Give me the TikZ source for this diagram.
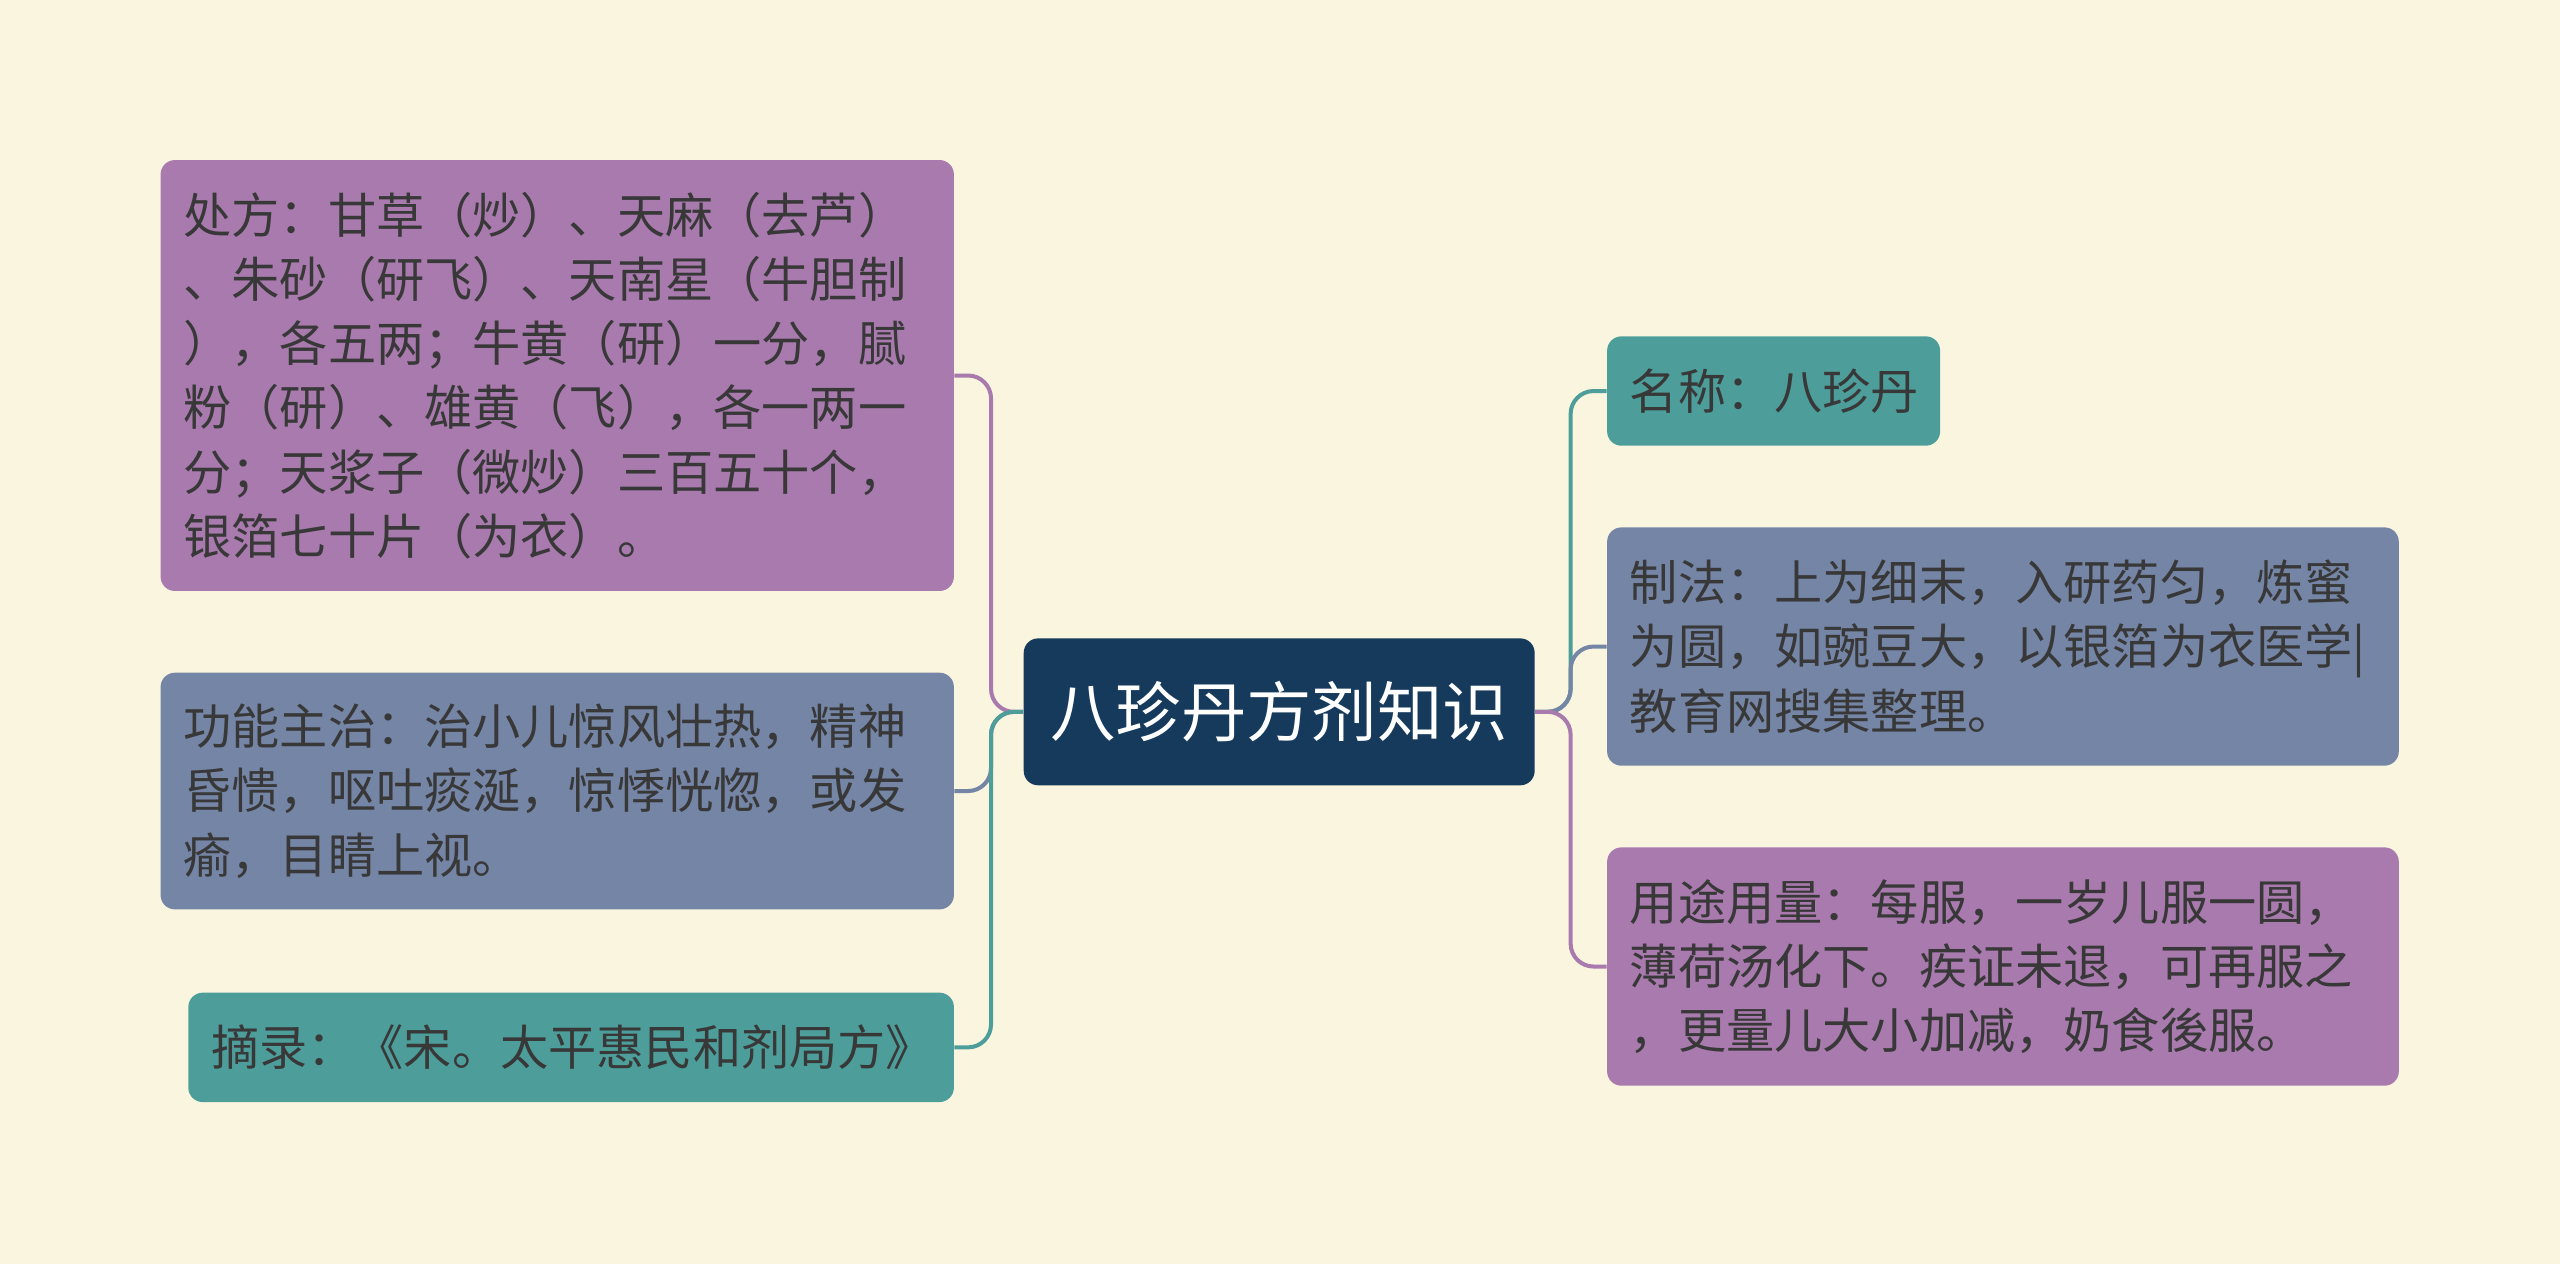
\documentclass[tikz,border=0pt]{standalone}
\usepackage{fontspec}
\setmainfont{Noto Sans CJK SC}
\begin{document}
\begin{tikzpicture}[x=0.02cm,y=-0.02cm,
  box/.style={rounded corners=5pt,draw=none,align=left,inner xsep=0.28cm,inner ysep=0.3cm,anchor=west,text=black!78,font=\fontsize{16.8pt}{22.4pt}\selectfont},
  conn/.style={line width=1.4pt,rounded corners=8pt}]
\definecolor{bg}{HTML}{FAF5DF}
\definecolor{pur}{HTML}{A87AAD}
\definecolor{sla}{HTML}{7585A6}
\definecolor{tea}{HTML}{4D9E9B}
\definecolor{cen}{HTML}{163A5C}
\fill[bg] (0,0) rectangle (1568,774);
\useasboundingbox (0,0) rectangle (1568,774);
\node[box,fill=cen,text=white,font=\fontsize{22.8pt}{26pt}\selectfont,minimum width=6.26cm,minimum height=1.8cm,align=center,anchor=center] (c) at (783.5,436) {八珍丹方剂知识};
\node[box,fill=pur,text width=9.16cm,minimum height=5.28cm] (l1) at (98,230) {处方：甘草（炒）、天麻（去芦）\\、朱砂（研飞）、天南星（牛胆制\\），各五两；牛黄（研）一分，腻\\粉（研）、雄黄（飞），各一两一\\分；天浆子（微炒）三百五十个，\\银箔七十片（为衣）。};
\node[box,fill=sla,text width=9.16cm,minimum height=2.9cm] (l2) at (98,484.5) {功能主治：治小儿惊风壮热，精神\\昏愦，呕吐痰涎，惊悸恍惚，或发\\瘉，目睛上视。};
\node[box,fill=tea,text width=8.82cm,minimum height=1.34cm] (l3) at (115,641.5) {摘录：《宋。太平惠民和剂局方》};
\node[box,fill=tea,text width=3.52cm,minimum height=1.34cm] (r1) at (984,239.5) {名称：八珍丹};
\node[box,fill=sla,text width=9.14cm,minimum height=2.92cm] (r2) at (984,396) {制法：上为细末，入研药匀，炼蜜\\为圆，如豌豆大，以银箔为衣医学|\\教育网搜集整理。};
\node[box,fill=pur,text width=9.14cm,minimum height=2.92cm] (r3) at (984,592) {用途用量：每服，一岁儿服一圆，\\薄荷汤化下。疾证未退，可再服之\\，更量儿大小加减，奶食後服。};
\coordinate (tl) at (607,436);
\coordinate (tr) at (962,436);
\draw[conn,pur] (c.west) -- (tl) |- (l1.east);
\draw[conn,sla] (c.west) -- (tl) |- (l2.east);
\draw[conn,tea] (c.west) -- (tl) |- (l3.east);
\draw[conn,tea] (c.east) -- (tr) |- (r1.west);
\draw[conn,sla] (c.east) -- (tr) |- (r2.west);
\draw[conn,pur] (c.east) -- (tr) |- (r3.west);
\end{tikzpicture}
\end{document}
